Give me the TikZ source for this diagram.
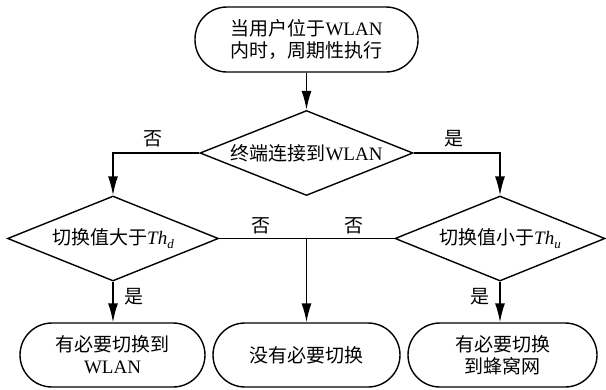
\documentclass[tikz,border=0pt]{standalone}
\usepackage{fontspec}
\setmainfont{Liberation Serif}
\newfontfamily\cjk{Noto Sans CJK SC}
\usetikzlibrary{shapes.geometric,arrows.meta}
\newcommand{\subit}[1]{\raisebox{-0.45ex}{\fontsize{13}{13}\selectfont\textit{#1}}}
\begin{document}
\begin{tikzpicture}[x=1pt,y=-1pt,
  every node/.style={font=\fontsize{19}{22}\selectfont},
  term/.style={draw,line width=1.4pt,rectangle,rounded corners=32pt,align=center,inner sep=0pt},
  decide/.style={draw,line width=1.4pt,diamond,aspect=2.5,inner sep=0pt},
  conn/.style={line width=1.4pt},
  arr/.style={line width=1.4pt,-{Latex[length=19pt,width=10pt]}},
  lbl/.style={inner sep=0pt}]
\useasboundingbox (0,0) rectangle (606,389);
\node[term,minimum width=223pt,minimum height=65pt] (top) at (306.5,39.5)
  {{\cjk 当用户位于}WLAN\\{\cjk 内时，周期性执行}};
\node[decide,minimum width=213pt,minimum height=85pt] (d1) at (306.5,153) {{\cjk 终端连接到}WLAN};
\node[decide,minimum width=211pt,minimum height=85pt] (d2) at (113,238.5) {{\cjk 切换值大于}\textit{Th}\subit{d}};
\node[decide,minimum width=210pt,minimum height=85pt] (d3) at (500,238.5) {{\cjk 切换值小于}\textit{Th}\subit{u}};
\node[term,minimum width=185pt,minimum height=64pt] (t1) at (112.5,355) {{\cjk 有必要切换到}\\WLAN};
\node[term,minimum width=187pt,minimum height=64pt] (t2) at (306.5,355) {{\cjk 没有必要切换}};
\node[term,minimum width=189pt,minimum height=64pt] (t3) at (502.5,355) {{\cjk 有必要切换}\\{\cjk 到蜂窝网}};
\coordinate (m) at (306.5,238.5);
\draw[arr] (top.south) -- (d1.north);
\draw[arr] (d1.west) -| (d2.north);
\draw[arr] (d1.east) -| (d3.north);
\draw[conn] (d2.east) -- (d3.west);
\draw[arr] (m) -- (m |- t2.north);
\draw[arr] (d2.south) -- (d2.south |- t1.north);
\draw[arr] (d3.south) -- (d3.south |- t3.north);
\node[lbl] (n1) at (153,139) {\cjk 否};
\node[lbl] (y1) at (454,139) {\cjk 是};
\node[lbl] (n2) at (261,226) {\cjk 否};
\node[lbl] (n3) at (354,226) {\cjk 否};
\node[lbl] (y2) at (134,297) {\cjk 是};
\node[lbl] (y3) at (480,297) {\cjk 是};
\end{tikzpicture}
\end{document}
